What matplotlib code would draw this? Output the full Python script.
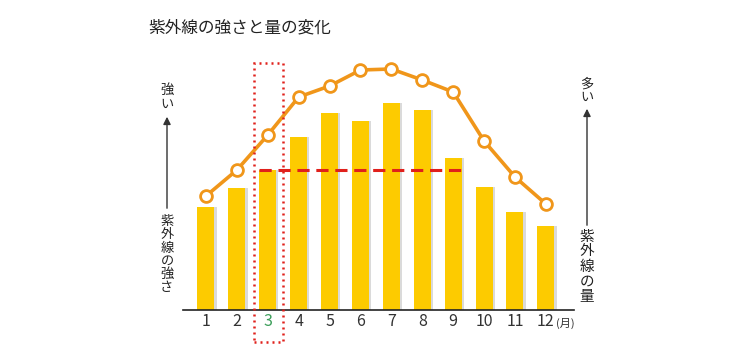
import matplotlib
matplotlib.use("Agg")
import matplotlib.pyplot as plt
from matplotlib.patches import Rectangle, FancyArrowPatch

plt.rcParams['font.family'] = ['Noto Sans CJK JP', 'DejaVu Sans']

months = [1, 2, 3, 4, 5, 6, 7, 8, 9, 10, 11, 12]
month_labels = ["1", "2", "3", "4", "5", "6", "7", "8", "9", "10", "11", "12"]
uv_amount = [103, 122, 140, 173, 197, 189, 207, 200, 152, 123, 98, 84]      # bars
uv_strength = [114, 140, 175, 213, 224, 240, 241, 230, 218, 169, 133, 106]  # line
highlight_month = 3
ref_end_month = 9

title = "紫外線の強さと量の変化"
left_top = "強い"
left_bottom = "紫外線の強さ"
right_top = "多い"
right_bottom = "紫外線の量"

BAR = "#FDCB00"
LINE = "#F0961A"
RED = "#E0201B"
GREEN = "#3C9E5A"

W, H = 750, 360
fig = plt.figure(figsize=(7.5, 3.6), dpi=100)
ax = fig.add_axes([182.8 / W, 50 / H, (573.7 - 182.8) / W, 250 / H])
ax.set_xlim(0.25, 12.9)
ax.set_ylim(0, 250)

bw = 0.55
ax.bar([m + 0.07 for m in months], uv_amount, width=bw, color="#DADADA", zorder=1)
ax.bar(months, uv_amount, width=bw, color=BAR, zorder=2)

ax.plot(months, uv_strength, color=LINE, lw=2.6, marker="o", ms=8.5,
        mfc="white", mec=LINE, mew=2.0, zorder=4)

i3 = months.index(highlight_month)
ax.plot([highlight_month - bw / 2, ref_end_month + bw / 2],
        [uv_amount[i3], uv_amount[i3]], color=RED, lw=2.2,
        dashes=(4.0, 2.2), zorder=3)

rect = Rectangle((highlight_month - 0.45, -32), 0.94, 279, fill=False,
                 edgecolor=RED, lw=1.8, linestyle=(0, (0.8, 1.6)),
                 clip_on=False, zorder=5)
ax.add_patch(rect)

for s in ["top", "right", "left"]:
    ax.spines[s].set_visible(False)
ax.spines["bottom"].set_linewidth(1.2)
ax.spines["bottom"].set_color("#222222")
ax.set_yticks([])
ax.set_xticks(months)
ax.set_xticklabels(month_labels, fontsize=11.5, color="#333333")
ax.tick_params(axis="x", length=0, pad=2)
for lbl, m in zip(ax.get_xticklabels(), months):
    if m == highlight_month:
        lbl.set_color(GREEN)

fig.text(556 / W, 1 - 323 / H, "(月)", fontsize=8, color="#333333",
         ha="left", va="center")

fig.text(148 / W, 1 - 28 / H, title, fontsize=12, color="#222222",
         ha="left", va="center")

def vtext(x, y0, step, s, size):
    for k, ch in enumerate(s):
        fig.text(x / W, 1 - (y0 + k * step) / H, ch, fontsize=size,
                 color="#222222", ha="center", va="center")

def arrow(x, y_from, y_to):
    fig.add_artist(FancyArrowPatch(
        (x / W, 1 - y_from / H), (x / W, 1 - y_to / H),
        transform=fig.transFigure, arrowstyle="-|>", mutation_scale=11,
        color="#333333", lw=1.0))

vtext(167, 90, 14, left_top, 9.5)
arrow(167, 211, 114)
vtext(167, 221.5, 13.3, left_bottom, 9.5)

vtext(587, 84, 13.5, right_top, 9.5)
arrow(587, 228, 106)
vtext(587, 236.5, 15, right_bottom, 10.5)

fig.savefig("out.png", dpi=100, facecolor="white")
